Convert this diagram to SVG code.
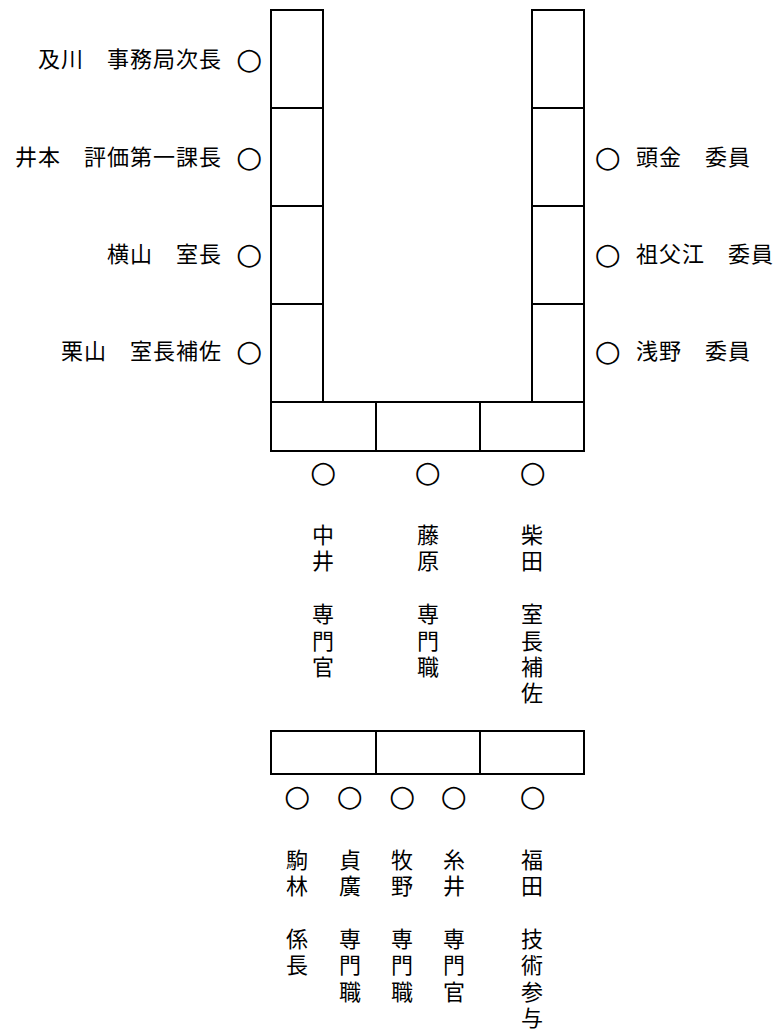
<svg xmlns="http://www.w3.org/2000/svg" width="777" height="1030" viewBox="0 0 777 1030">
<style>
.t{font-family:"Liberation Sans","Noto Sans CJK JP","Noto Sans CJK SC",sans-serif;font-size:22px;fill:#000}
.h{letter-spacing:1px}
.e{text-anchor:end}
.m{text-anchor:middle}
.o{font-family:"DejaVu Sans",sans-serif;font-size:30px;font-weight:bold;text-anchor:middle;fill:#000}
.c{fill:none;stroke:#000;stroke-width:2}
</style>
<rect width="777" height="1030" fill="#fff"/>
<g id="tables">
<g id="left-col">
<rect class="c" x="271" y="10" width="52" height="98"/>
<rect class="c" x="271" y="108" width="52" height="98"/>
<rect class="c" x="271" y="206" width="52" height="98"/>
<rect class="c" x="271" y="304" width="52" height="98"/>
</g>
<g id="right-col">
<rect class="c" x="532" y="10" width="52" height="98"/>
<rect class="c" x="532" y="108" width="52" height="98"/>
<rect class="c" x="532" y="206" width="52" height="98"/>
<rect class="c" x="532" y="304" width="52" height="98"/>
</g>
<g id="bottom-row">
<rect class="c" x="271" y="402" width="105" height="49"/>
<rect class="c" x="376" y="402" width="104" height="49"/>
<rect class="c" x="480" y="402" width="104" height="49"/>
</g>
<g id="lower-table">
<rect class="c" x="271" y="731" width="105" height="43"/>
<rect class="c" x="376" y="731" width="104" height="43"/>
<rect class="c" x="480" y="731" width="104" height="43"/>
</g>
</g>
<g id="connectors"/>
<g id="seat-oikawa"><text class="t h e" x="222" y="67">及川　事務局次長</text><text class="o" x="249" y="68.6">○</text></g>
<g id="seat-imoto"><text class="t h e" x="222" y="165">井本　評価第一課長</text><text class="o" x="249" y="166.6">○</text></g>
<g id="seat-yokoyama"><text class="t h e" x="222" y="262">横山　室長</text><text class="o" x="249" y="263.6">○</text></g>
<g id="seat-kuriyama"><text class="t h e" x="222" y="359">栗山　室長補佐</text><text class="o" x="249" y="360.6">○</text></g>
<g id="seat-zukin"><text class="o" x="607.5" y="166.6">○</text><text class="t h" x="636" y="165">頭金　委員</text></g>
<g id="seat-sobue"><text class="o" x="607.5" y="263.6">○</text><text class="t h" x="636" y="262">祖父江　委員</text></g>
<g id="seat-asano"><text class="o" x="607.5" y="360.6">○</text><text class="t h" x="636" y="359">浅野　委員</text></g>
<g id="seat-nakai"><text class="o" x="323" y="481.6">○</text>
<text class="t m"><tspan x="323" y="543">中</tspan><tspan x="323" dy="26.4">井</tspan><tspan x="323" dy="52.8">専</tspan><tspan x="323" dy="26.4">門</tspan><tspan x="323" dy="26.4">官</tspan></text></g>
<g id="seat-fujiwara"><text class="o" x="427.5" y="481.6">○</text>
<text class="t m"><tspan x="428" y="543">藤</tspan><tspan x="428" dy="26.4">原</tspan><tspan x="428" dy="52.8">専</tspan><tspan x="428" dy="26.4">門</tspan><tspan x="428" dy="26.4">職</tspan></text></g>
<g id="seat-shibata"><text class="o" x="532.5" y="481.6">○</text>
<text class="t m"><tspan x="532" y="543">柴</tspan><tspan x="532" dy="26.4">田</tspan><tspan x="532" dy="52.8">室</tspan><tspan x="532" dy="26.4">長</tspan><tspan x="532" dy="26.4">補</tspan><tspan x="532" dy="26.4">佐</tspan></text></g>
<g id="seat-komabayashi"><text class="o" x="297" y="806">○</text>
<text class="t m"><tspan x="297" y="867.5">駒</tspan><tspan x="297" dy="26.4">林</tspan><tspan x="297" dy="52.8">係</tspan><tspan x="297" dy="26.4">長</tspan></text></g>
<g id="seat-sadahiro"><text class="o" x="349.5" y="806">○</text>
<text class="t m"><tspan x="350" y="867.5">貞</tspan><tspan x="350" dy="26.4">廣</tspan><tspan x="350" dy="52.8">専</tspan><tspan x="350" dy="26.4">門</tspan><tspan x="350" dy="26.4">職</tspan></text></g>
<g id="seat-makino"><text class="o" x="402" y="806">○</text>
<text class="t m"><tspan x="402" y="867.5">牧</tspan><tspan x="402" dy="26.4">野</tspan><tspan x="402" dy="52.8">専</tspan><tspan x="402" dy="26.4">門</tspan><tspan x="402" dy="26.4">職</tspan></text></g>
<g id="seat-itoi"><text class="o" x="453.5" y="806">○</text>
<text class="t m"><tspan x="454" y="867.5">糸</tspan><tspan x="454" dy="26.4">井</tspan><tspan x="454" dy="52.8">専</tspan><tspan x="454" dy="26.4">門</tspan><tspan x="454" dy="26.4">官</tspan></text></g>
<g id="seat-fukuda"><text class="o" x="532.5" y="806">○</text>
<text class="t m"><tspan x="532" y="867.5">福</tspan><tspan x="532" dy="26.4">田</tspan><tspan x="532" dy="52.8">技</tspan><tspan x="532" dy="26.4">術</tspan><tspan x="532" dy="26.4">参</tspan><tspan x="532" dy="26.4">与</tspan></text></g>
</svg>
